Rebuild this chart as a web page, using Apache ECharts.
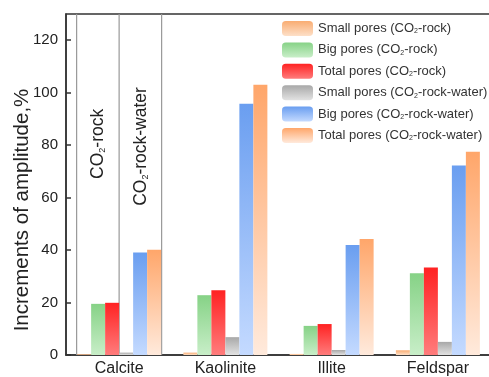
<!DOCTYPE html>
<html>
<head>
<meta charset="utf-8">
<script src="https://cdn.jsdelivr.net/npm/echarts@6/dist/echarts.min.js"></script>
<style>
html,body{margin:0;padding:0;background:#fff;}
#c{width:489px;height:377px;}
</style>
</head>
<body>
<div id="c"></div>
<script>
const categories = ['Calcite', 'Kaolinite', 'Illite', 'Feldspar'];
const seriesNames = [
  'Small pores (CO2-rock)',
  'Big pores (CO2-rock)',
  'Total pores (CO2-rock)',
  'Small pores (CO2-rock-water)',
  'Big pores (CO2-rock-water)',
  'Total pores (CO2-rock-water)'
];
const smallRock = [0.3, 0.9, 0.4, 1.8];
const bigRock = [19.5, 22.8, 11.1, 31.2];
const totalRock = [19.9, 24.7, 11.8, 33.4];
const smallWater = [0.9, 6.8, 1.9, 5.0];
const bigWater = [39.1, 95.8, 41.9, 72.2];
const totalWater = [40.1, 103.0, 44.2, 77.5];
const yTicks = [0, 20, 40, 60, 80, 100, 120];
const yTitle = 'Increments of amplitude,%';
// annotation positions on hidden value x-axis (Calcite group spans -0.4..0.4)
const dividerX = [-0.4, 0, 0.4];
const annotations = [
  [-0.2, 80.5, 'CO2-rock'],
  [0.205, 79.5, 'CO2-rock-water']
];

const FONT = '"Liberation Sans", Arial, sans-serif';
function grad(top, bottom) {
  return {type: 'linear', x: 0, y: 0, x2: 0, y2: 1,
    colorStops: [{offset: 0, color: top}, {offset: 1, color: bottom}]};
}
const colors = [
  grad('#f9ac72', '#fde0c8'),
  grad('#86d286', '#c8eec8'),
  grad('#ff2222', '#ff7c7c'),
  grad('#a8a8a8', '#e2e2e2'),
  grad('#6a9ef0', '#c4daff'),
  grad('#ffa66a', '#ffeadc')
];
const dataArr = [smallRock, bigRock, totalRock, smallWater, bigWater, totalWater];

function co2Rich(s) { return s.replace('CO2', 'CO{s|2}'); }

const chart = echarts.init(document.getElementById('c'), null, {renderer: 'canvas'});
const barSeries = seriesNames.map((n, i) => ({
  name: n,
  type: 'bar',
  xAxisIndex: 0,
  yAxisIndex: 0,
  barWidth: 14,
  barGap: '0%',
  data: dataArr[i],
  itemStyle: {color: colors[i]},
  emphasis: {disabled: true},
  z: 3
}));

chart.setOption({
  animation: false,
  textStyle: {fontFamily: FONT},
  grid: {left: 66, top: 14, right: -2, bottom: 22, show: true, outerBoundsMode: 'none',
    containLabel: false,
    borderColor: '#333', borderWidth: 1.5, backgroundColor: 'transparent'},
  graphic: [{
    type: 'text', x: 22, y: 210, rotation: Math.PI / 2,
    style: {text: yTitle, fill: '#222', fontSize: 20.5, fontFamily: FONT,
      align: 'center', verticalAlign: 'middle'}
  }],
  legend: {
    orient: 'vertical', left: 277, top: 16,
    itemWidth: 31, itemHeight: 15, itemGap: 6.4,
    data: seriesNames,
    formatter: co2Rich,
    textStyle: {fontFamily: FONT, fontSize: 13, color: '#333', padding: [0, 0, 0, 0],
      rich: {s: {fontSize: 7, fontFamily: FONT, color: '#333', verticalAlign: 'bottom', padding: [5, 0, 0, 0]}}}
  },
  xAxis: [{
    type: 'category', data: categories,
    axisLine: {show: true, lineStyle: {color: '#333', width: 1.5}},
    axisTick: {show: false},
    axisLabel: {fontSize: 16, color: '#222', margin: 6, fontFamily: FONT}
  }, {
    type: 'value', min: -0.5, max: 3.5, show: false
  }],
  yAxis: {
    type: 'value', min: 0, max: 130, interval: 20,
    axisLine: {show: true, onZero: false, lineStyle: {color: '#333', width: 1.5}},
    axisTick: {show: true, inside: true, length: 5, lineStyle: {color: '#333', width: 1.5},
      customValues: yTicks},
    splitLine: {show: false},
    axisLabel: {fontSize: 15, color: '#222', margin: 8, fontFamily: FONT,
      customValues: yTicks}
  },
  series: barSeries.concat([{
    type: 'custom', xAxisIndex: 1, yAxisIndex: 0, silent: true, z: 2,
    data: dividerX.map(v => [v]),
    renderItem: function (params, api) {
      const p0 = api.coord([api.value(0), 0]);
      const p1 = api.coord([api.value(0), 130]);
      return {type: 'line', shape: {x1: p0[0], y1: p0[1], x2: p1[0], y2: p1[1]},
        style: {stroke: '#999', lineWidth: 1.2}};
    }
  }, {
    type: 'custom', xAxisIndex: 1, yAxisIndex: 0, silent: true, z: 4,
    data: annotations,
    renderItem: function (params, api) {
      const a = annotations[params.dataIndex];
      const p = api.coord([a[0], a[1]]);
      return {type: 'text', x: p[0], y: p[1], rotation: Math.PI / 2,
        style: {text: co2Rich(a[2]), fill: '#222',
          fontSize: 17.5, fontFamily: FONT,
          align: 'center', verticalAlign: 'middle',
          rich: {s: {fontSize: 9, fontFamily: FONT, fill: '#222', verticalAlign: 'bottom', padding: [7, 0, 0, 0]}}}};
    }
  }])
});
</script>
</body>
</html>
